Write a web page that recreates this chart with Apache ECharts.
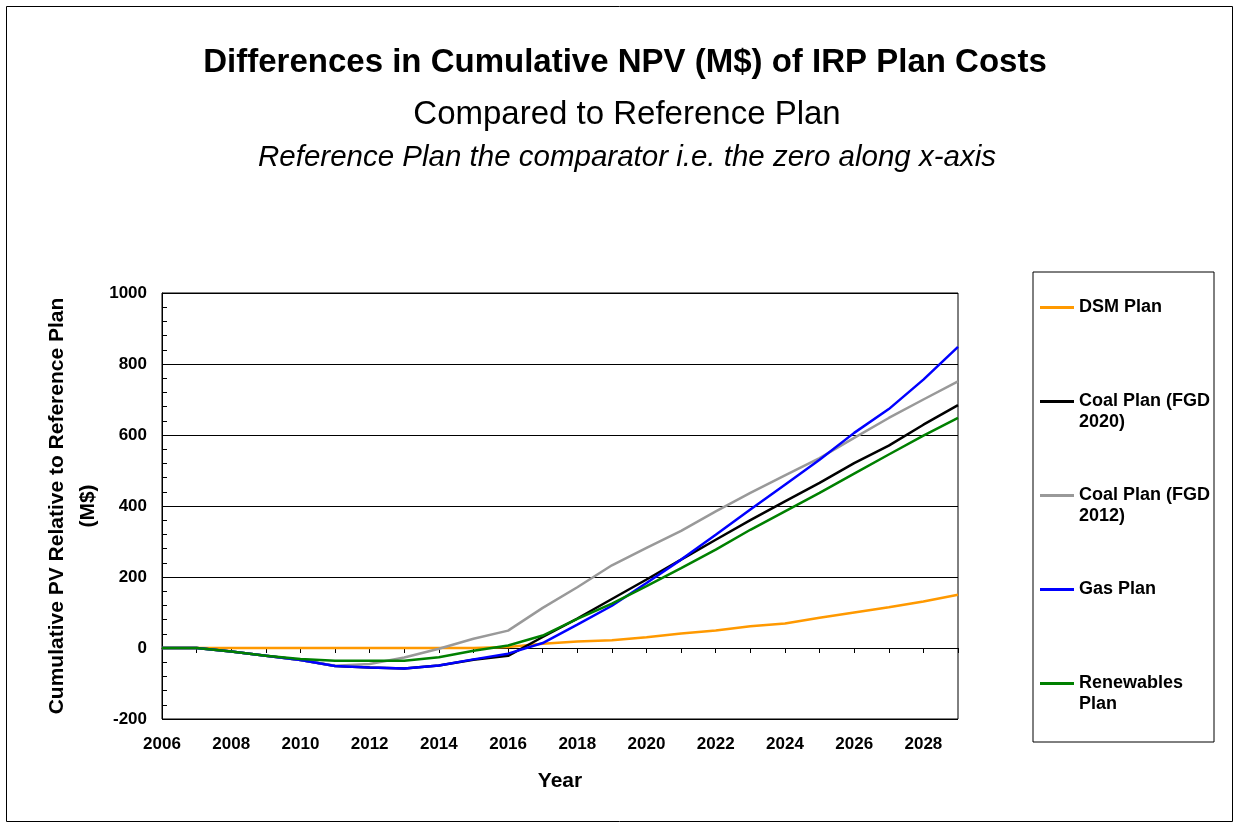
<!DOCTYPE html>
<html>
<head>
<meta charset="utf-8">
<title>Differences in Cumulative NPV</title>
<script src="https://cdn.jsdelivr.net/npm/echarts@6/dist/echarts.min.js"></script>
<style>
    html, body { margin: 0; padding: 0; background: #fff; }
    #chart { width: 1239px; height: 827px; }
</style>
</head>
<body>
<div id="chart"></div>
<script>
// years on the x axis
const years = [2006, 2007, 2008, 2009, 2010, 2011, 2012, 2013, 2014, 2015, 2016, 2017,
    2018, 2019, 2020, 2021, 2022, 2023, 2024, 2025, 2026, 2027, 2028, 2029];
const seriesNames = ["DSM Plan", "Coal Plan (FGD 2020)", "Coal Plan (FGD 2012)", "Gas Plan", "Renewables Plan"];
// cumulative PV relative to reference plan (M$)
const dsmPlan = [0, 0, 0, 0, 0, 0, 0, 0, 0, 0, 3, 12, 18, 22, 30, 41, 49, 61, 69, 85, 100, 115, 131, 150];
const coal2020 = [0, 0, -10, -22, -34, -51, -55, -58, -49, -33, -22, 31, 83, 138, 193, 249, 305, 360, 413, 465, 521, 570, 629, 684];
const coal2012 = [0, 0, -10, -22, -34, -50, -45, -27, -2, 26, 49, 113, 171, 233, 282, 330, 385, 437, 486, 535, 592, 648, 700, 751];
const gasPlan = [0, 0, -10, -22, -34, -51, -55, -58, -49, -32, -16, 14, 66, 119, 183, 249, 319, 390, 460, 530, 606, 673, 756, 848];
const renewables = [0, 0, -10, -22, -31, -36, -36, -36, -26, -8, 7, 35, 82, 125, 174, 225, 277, 333, 385, 437, 491, 545, 598, 648];
const yTicks = [-200, 0, 200, 400, 600, 800, 1000];

const colors = ["#ff9900", "#000000", "#999999", "#0000ff", "#008000"];
const font = "Arial, 'Liberation Sans', sans-serif";

function pairs(values) {
    return years.map((y, i) => [y, values[i]]);
}

let chart = echarts.init(document.getElementById("chart"));

const lineH = 21;
// legend labels: three lines each (blank first line) so the name sits level with the icon
const legendText = {
    "DSM Plan": " \nDSM Plan\n ",
    "Coal Plan (FGD 2020)": " \nCoal Plan (FGD\n2020)",
    "Coal Plan (FGD 2012)": " \nCoal Plan (FGD\n2012)",
    "Gas Plan": " \nGas Plan\n ",
    "Renewables Plan": " \nRenewables\nPlan",
};

let option = {
    animation: false,
    color: colors,
    textStyle: { fontFamily: font },
    title: [
        {
            text: "Differences in Cumulative NPV (M$) of IRP Plan Costs",
            left: 620,
            top: 41,
            textAlign: "center",
            textStyle: { fontFamily: font, fontSize: 33, fontWeight: "bold", color: "#000" },
        },
        {
            text: "Compared to Reference Plan",
            left: 622,
            top: 93,
            textAlign: "center",
            textStyle: { fontFamily: font, fontSize: 33, fontWeight: "normal", color: "#000" },
        },
        {
            text: "Reference Plan the comparator i.e. the zero along x-axis",
            left: 622,
            top: 138,
            textAlign: "center",
            textStyle: { fontFamily: font, fontSize: 29.5, fontWeight: "normal", fontStyle: "italic", color: "#000" },
        },
    ],
    legend: {
        orient: "vertical",
        left: 1033,
        top: 272,
        padding: [4, 4, 27, 7],
        itemGap: 31,
        itemWidth: 34,
        itemHeight: 3,
        icon: "rect",
        borderColor: "#000",
        borderWidth: 1,
        textStyle: {
            fontFamily: font,
            fontSize: 18,
            fontWeight: "bold",
            color: "#000",
            lineHeight: lineH,
        },
        formatter: (name) => legendText[name],
        data: seriesNames,
    },
    grid: {
        left: 162,
        top: 293,
        right: 281,
        bottom: 108,
        show: true,
        borderColor: "#000",
        borderWidth: 1,
    },
    xAxis: {
        type: "value",
        min: 2006,
        max: 2029,
        interval: 1,
        name: "Year",
        nameLocation: "middle",
        nameGap: 52,
        nameTextStyle: { fontFamily: font, fontSize: 21, fontWeight: "bold", color: "#000" },
        axisLine: { lineStyle: { color: "#000" } },
        axisTick: { length: 5, lineStyle: { color: "#000" } },
        splitLine: { show: false },
        axisLabel: {
            margin: 17,
            color: "#000",
            fontFamily: font,
            fontSize: 17,
            fontWeight: "bold",
            formatter: (v) => (v % 2 === 0 ? String(v) : ""),
        },
    },
    yAxis: {
        type: "value",
        min: yTicks[0],
        max: yTicks[yTicks.length - 1],
        interval: 200,
        name: "Cumulative PV Relative to Reference Plan\n(M$)",
        nameLocation: "middle",
        nameGap: 58,
        nameMoveOverlap: false,
        nameTextStyle: { fontFamily: font, fontSize: 21, fontWeight: "bold", color: "#000", lineHeight: 31, align: "center" },
        axisLine: { show: true, lineStyle: { color: "#000" } },
        axisTick: { show: true, inside: true, length: 5, lineStyle: { color: "#000" } },
        minorTick: { show: true, splitNumber: 5, length: 5, lineStyle: { color: "#000" } },
        splitLine: { show: true, lineStyle: { color: "#000", width: 1 } },
        axisLabel: {
            margin: 15,
            color: "#000",
            fontFamily: font,
            fontSize: 17,
            fontWeight: "bold",
            formatter: (v) => String(v),
        },
    },
    graphic: [
        {
            type: "rect",
            shape: { x: 6.5, y: 6.5, width: 1226, height: 815 },
            style: { fill: "none", stroke: "#000", lineWidth: 1 },
            silent: true,
        },
    ],
    series: [
        { name: seriesNames[0], data: pairs(dsmPlan) },
        { name: seriesNames[1], data: pairs(coal2020) },
        { name: seriesNames[2], data: pairs(coal2012) },
        { name: seriesNames[3], data: pairs(gasPlan) },
        { name: seriesNames[4], data: pairs(renewables) },
    ].map((s) => ({
        ...s,
        type: "line",
        showSymbol: false,
        symbol: "none",
        lineStyle: { width: 2.5 },
    })),
};

chart.setOption(option);
</script>
</body>
</html>
